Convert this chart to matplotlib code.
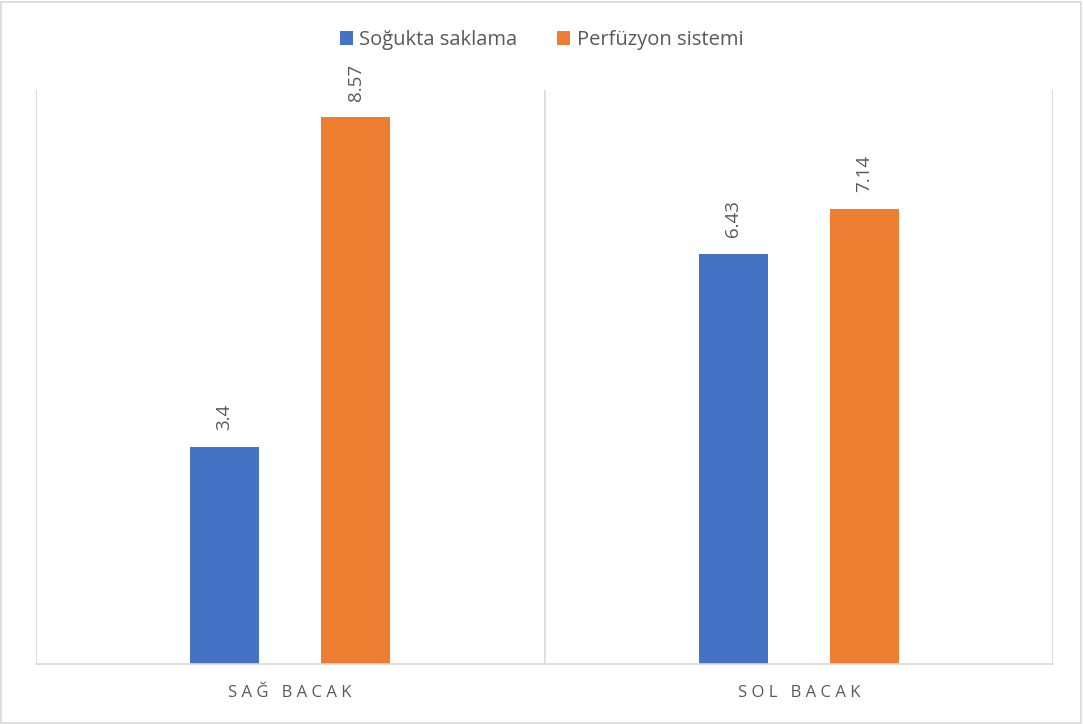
import numpy as np
import matplotlib.pyplot as plt
from matplotlib.patches import Rectangle

# Data
categories = ['SAĞ BACAK', 'SOL BACAK']
soguk = [3.4, 6.43]
perfuzyon = [8.57, 7.14]
series_names = ['Soğukta saklama', 'Perfüzyon sistemi']

blue = '#4472C4'
orange = '#ED7D31'
gray_txt = '#595959'
grid_c = '#D9D9D9'

plt.rcParams['font.family'] = ['Open Sans', 'DejaVu Sans']

W, H = 1083, 724
fig = plt.figure(figsize=(W / 100, H / 100), dpi=100)
ax = fig.add_axes([36 / W, (H - 664) / H, (1053 - 36) / W, (664 - 90) / H])

x = np.arange(len(categories))
w = 0.136
off = 0.129
b1 = ax.bar(x - off, soguk, w, color=blue, label=series_names[0])
b2 = ax.bar(x + off, perfuzyon, w, color=orange, label=series_names[1])

for bars in (b1, b2):
    for r in bars:
        v = r.get_height()
        ax.annotate(f'{v:g}', (r.get_x() + r.get_width() / 2, v),
                    xytext=(0, 12), textcoords='offset points',
                    rotation=90, ha='center', va='bottom',
                    fontsize=13.5, color=gray_txt)

ax.set_xlim(-0.5, len(categories) - 0.5)
ax.set_ylim(0, 9)
ax.set_yticks([])
ax.set_xticks(x)
ax.set_xticklabels([' '.join(c) for c in categories], fontsize=12, color=gray_txt)
ax.tick_params(axis='x', length=0, pad=15)
ax.set_xticks(np.arange(len(categories) + 1) - 0.5, minor=True)
ax.tick_params(axis='x', which='minor', length=0)
ax.grid(True, axis='x', which='minor', color=grid_c, linewidth=1.2)
ax.set_axisbelow(True)

for s in ['top', 'left', 'right']:
    ax.spines[s].set_visible(False)
ax.spines['bottom'].set_color(grid_c)
ax.spines['bottom'].set_linewidth(1.2)

fig.legend(handles=[b1, b2], labels=series_names, loc='center',
           bbox_to_anchor=(0.5, (H - 40) / H), ncol=2, frameon=False,
           fontsize=14.5, handlelength=0.65, handleheight=0.65,
           handletextpad=0.3, columnspacing=2.0, labelcolor=gray_txt)

fig.patches.append(Rectangle((1 / W, 1 / H), (W - 3) / W, (H - 3) / H,
                             transform=fig.transFigure, fill=False,
                             edgecolor=grid_c, linewidth=1.2))

fig.savefig('out.png', dpi=100)
